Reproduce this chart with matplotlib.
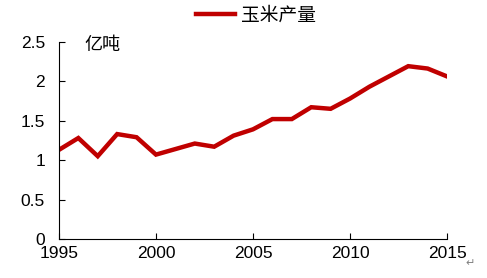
import matplotlib
matplotlib.use("Agg")
import matplotlib.pyplot as plt

plt.rcParams['font.family'] = ['Liberation Sans', 'Noto Sans CJK SC', 'DejaVu Sans']

years = list(range(1995, 2016))
corn = [1.13, 1.28, 1.05, 1.33, 1.29, 1.07, 1.14, 1.21, 1.17, 1.31, 1.39,
        1.52, 1.52, 1.67, 1.65, 1.78, 1.93, 2.06, 2.19, 2.16, 2.06]
series_name = '玉米产量'
unit = '亿吨'
xticks = [1995, 2000, 2005, 2010, 2015]
yticks = [0, 0.5, 1, 1.5, 2, 2.5]
ytick_labels = ['0', '0.5', '1', '1.5', '2', '2.5']

fig = plt.figure(figsize=(4.87, 2.78), dpi=100)
ax = fig.add_axes([0.121, 0.140, 0.797, 0.710])

ax.plot(years, corn, color='#C00000', linewidth=3.2, label=series_name,
        solid_joinstyle='miter')

ax.set_xlim(1995, 2015)
ax.set_ylim(0, 2.5)
ax.set_xticks(xticks)
ax.set_yticks(yticks)
ax.set_yticklabels(ytick_labels)
ax.tick_params(direction='in', length=4, width=0.8, labelsize=12.5, colors='black')
ax.tick_params(axis='x', pad=5)
ax.tick_params(axis='y', pad=10)
for s in ['top', 'right']:
    ax.spines[s].set_visible(False)
for s in ['left', 'bottom']:
    ax.spines[s].set_linewidth(0.8)

# unit label inside the plot, top left
ax.text(0.065, 1.03, unit, transform=ax.transAxes, fontsize=13,
        family=['Noto Sans CJK SC'], va='top', ha='left')

fig.legend(loc='upper center', bbox_to_anchor=(0.525, 1.045), frameon=False,
           prop={'family': 'Noto Sans CJK SC', 'size': 13.5},
           handlelength=2.1, handletextpad=0.3)

fig.text(0.975, 0.035, '↵', fontsize=8, color='#808080',
         family=['DejaVu Sans'], ha='right', va='bottom')

fig.savefig('out.png', dpi=100)
